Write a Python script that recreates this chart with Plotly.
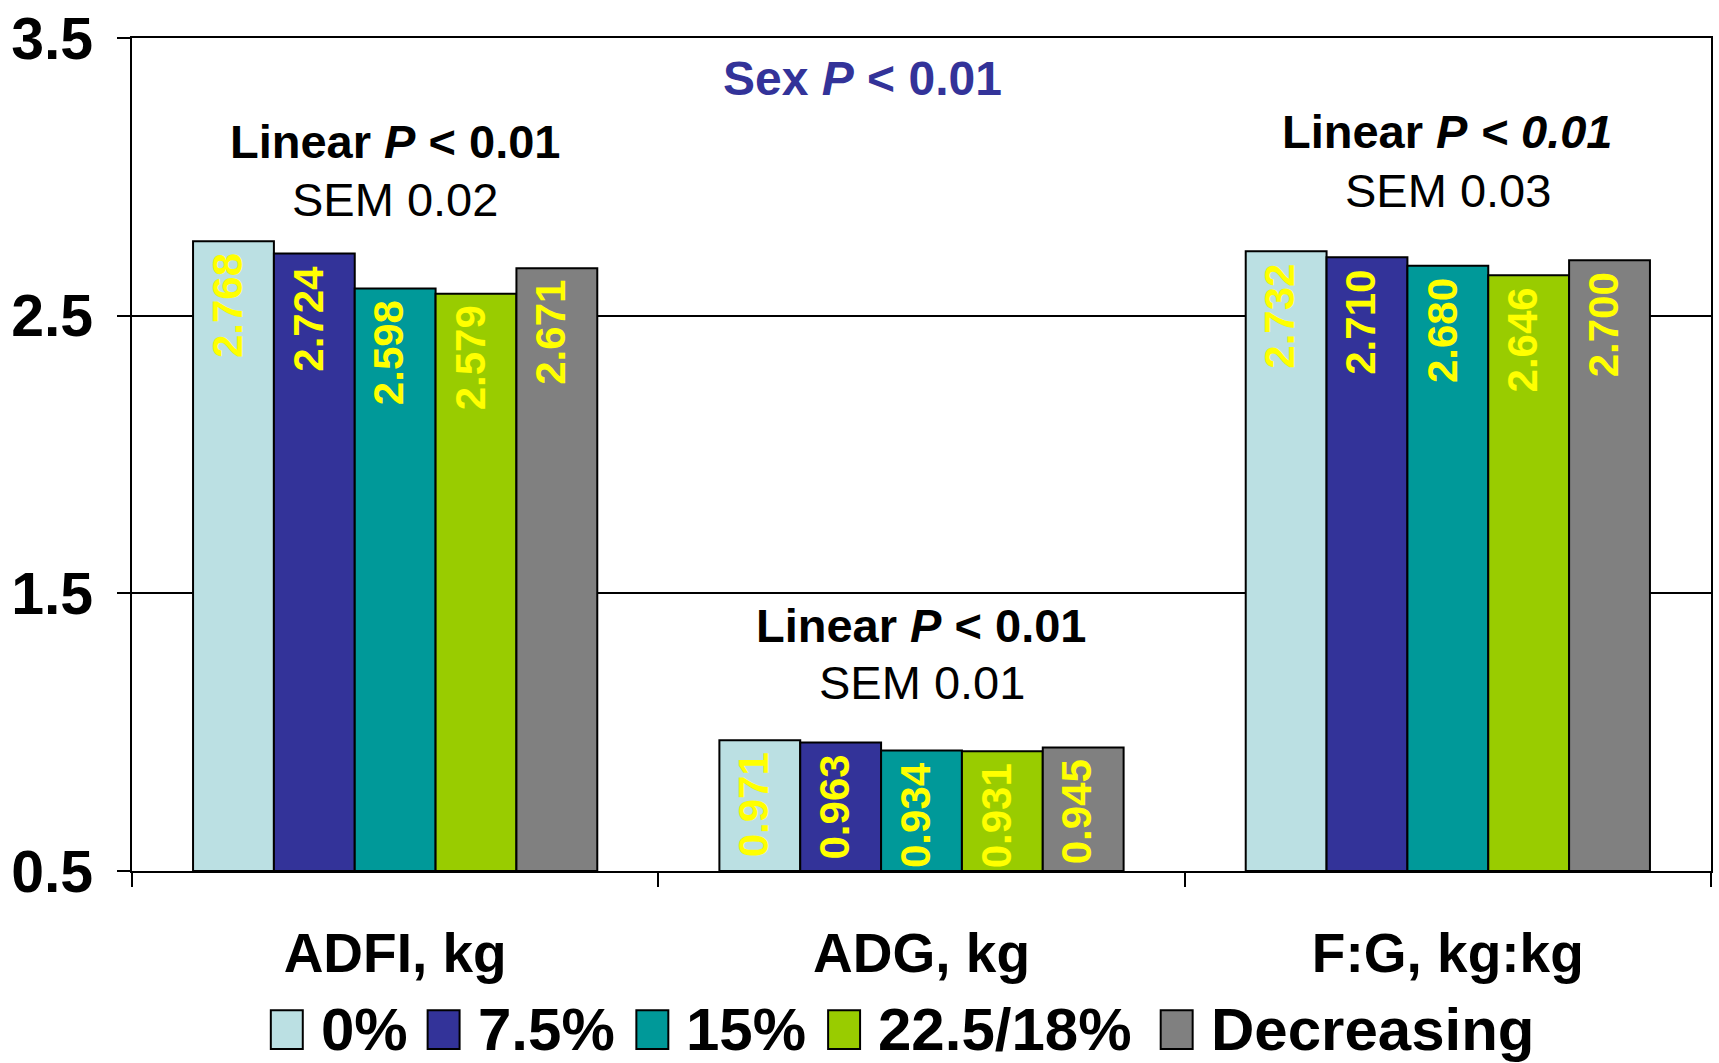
import plotly.graph_objects as go

# Performance measures and dietary treatment levels
categories = ["ADFI, kg", "ADG, kg", "F:G, kg:kg"]
treatments = ["0%", "7.5%", "15%", "22.5/18%", "Decreasing"]
colors = ["#BBE0E3", "#333399", "#009999", "#99CC00", "#808080"]

values_0 = [2.768, 0.971, 2.732]
values_75 = [2.724, 0.963, 2.710]
values_15 = [2.598, 0.934, 2.680]
values_225 = [2.579, 0.931, 2.646]
values_dec = [2.671, 0.945, 2.700]
series = [values_0, values_75, values_15, values_225, values_dec]

y_ticks = [0.5, 1.5, 2.5, 3.5]
sem_labels = ["SEM 0.02", "SEM 0.01", "SEM 0.03"]

AXIS_MIN = 0.5
BARGAP = 0.232
FONT = "Liberation Sans, Arial, sans-serif"
W, H = 1719, 1063
M = dict(l=132, r=6, t=33, b=192)
PLOT_W = W - M["l"] - M["r"]
BAR_PX = PLOT_W / len(categories) * (1 - BARGAP) / len(treatments)


def paper_x(px):
    return (px - M["l"]) / PLOT_W


def paper_y(py):
    return (H - M["b"] - py) / (H - M["t"] - M["b"])


fig = go.Figure()
for name, color, vals in zip(treatments, colors, series):
    # bars rise from the axis floor (0.5) up to each value
    fig.add_trace(go.Bar(
        x=categories, y=[v - AXIS_MIN for v in vals], base=AXIS_MIN, name=name,
        marker=dict(color=color, line=dict(color="black", width=2)),
        showlegend=False,
    ))

annotations = []
# Rotated yellow value labels just inside the top of each bar
n = len(treatments)
for i, vals in enumerate(series):
    for cat, v in zip(categories, vals):
        annotations.append(dict(
            x=cat, y=v, xref="x", yref="y", showarrow=False,
            xshift=(i - (n - 1) / 2) * BAR_PX - 6, yshift=-10,
            text=f"<b>{v:.3f}</b>", textangle=-90,
            font=dict(family=FONT, size=42, color="#FFFF00"),
            xanchor="center", yanchor="top",
        ))

# Significance notes above each group
note_pos = [(3.126, 2.92), (1.385, 1.18), (3.165, 2.95)]
for cat, sem, (y1, y2), italic_tail in zip(categories, sem_labels, note_pos, [False, False, True]):
    tail = "<i>&lt; 0.01</i>" if italic_tail else "&lt; 0.01"
    annotations.append(dict(
        x=cat, y=y1, xref="x", yref="y", showarrow=False,
        text=f"<b>Linear <i>P</i> {tail}</b>",
        font=dict(family=FONT, size=47, color="black"),
        xanchor="center", yanchor="middle",
    ))
    annotations.append(dict(
        x=cat, y=y2, xref="x", yref="y", showarrow=False,
        text=sem,
        font=dict(family=FONT, size=47, color="black"),
        xanchor="center", yanchor="middle",
    ))

annotations.append(dict(
    x=paper_x(863), y=paper_y(74), xref="paper", yref="paper", showarrow=False,
    text="<b>Sex <i>P</i> &lt; 0.01</b>",
    font=dict(family=FONT, size=48, color="#333399"),
    xanchor="center", yanchor="middle",
))

# Legend row drawn as swatches plus labels
shapes = []
swatch_x = [271, 428, 637, 829, 1162]
sw_w, sw_top, sw_bot = 32, 1011, 1050
for name, color, sx in zip(treatments, colors, swatch_x):
    shapes.append(dict(
        type="rect", xref="paper", yref="paper",
        x0=paper_x(sx), x1=paper_x(sx + sw_w),
        y0=paper_y(sw_bot), y1=paper_y(sw_top),
        fillcolor=color, line=dict(color="black", width=2),
    ))
    annotations.append(dict(
        x=paper_x(sx + sw_w + 16), y=paper_y((sw_top + sw_bot) / 2),
        xref="paper", yref="paper", showarrow=False,
        text=f"<b>{name}</b>",
        font=dict(family=FONT, size=60, color="black"),
        xanchor="left", yanchor="middle",
    ))

fig.update_layout(
    width=W, height=H,
    margin=M,
    paper_bgcolor="white", plot_bgcolor="white",
    barmode="group", bargap=BARGAP, bargroupgap=0,
    annotations=annotations, shapes=shapes,
    showlegend=False,
)
fig.update_xaxes(
    type="category", showgrid=False, zeroline=False,
    showline=True, linecolor="black", linewidth=2, mirror=True,
    ticks="outside", tickson="boundaries", ticklen=14,
    tickcolor="black", tickwidth=2,
    tickfont=dict(family=FONT, size=55, color="black", weight="bold"),
    ticklabelstandoff=33,
)
fig.update_yaxes(
    range=[AXIS_MIN, 3.5], tickvals=y_ticks,
    ticktext=[f"{v:.1f}" for v in y_ticks],
    showgrid=True, gridcolor="black", gridwidth=2, zeroline=False,
    showline=True, linecolor="black", linewidth=2, mirror=True,
    ticks="outside", ticklen=13, tickcolor="black", tickwidth=2,
    tickfont=dict(family=FONT, size=59, color="black", weight="bold"),
    ticklabelstandoff=12,
)

fig.write_html("out.html")
